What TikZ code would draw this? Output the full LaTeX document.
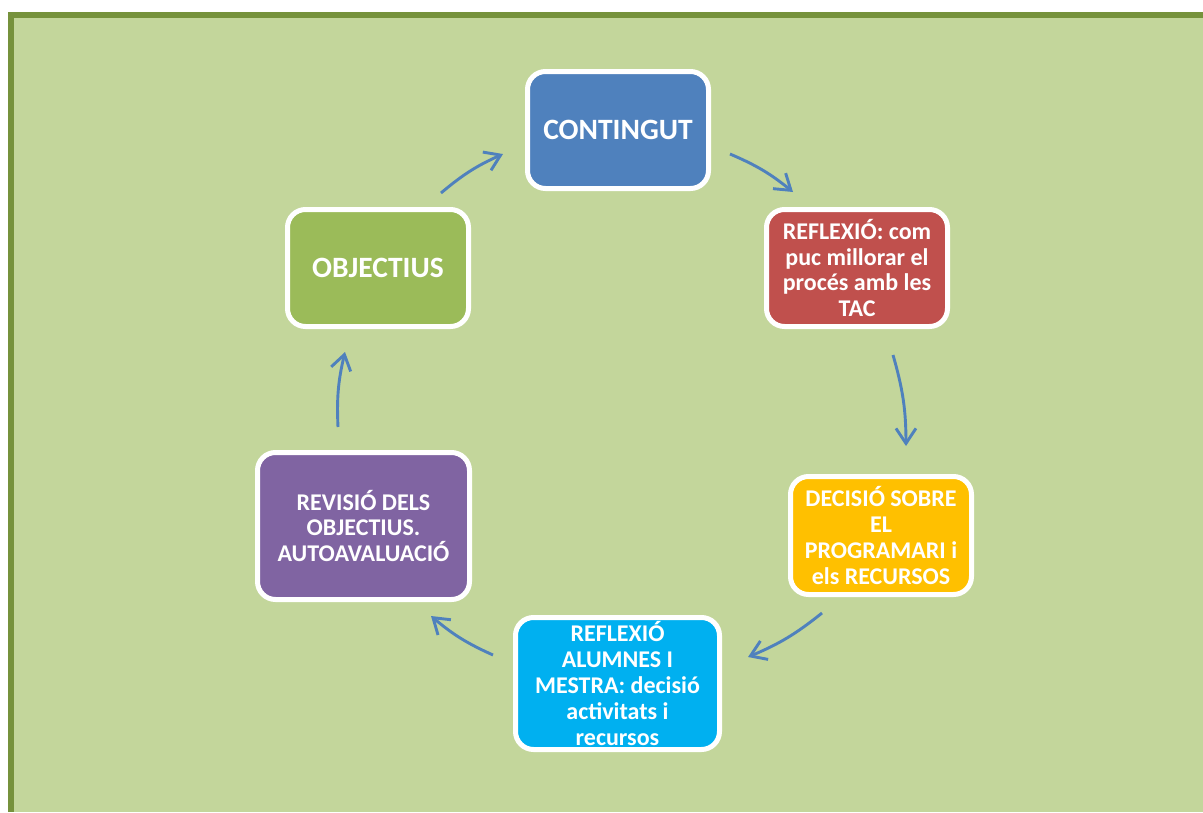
\documentclass[tikz,border=0pt]{standalone}
\usepackage{fontspec}
\setmainfont{Carlito}
\usetikzlibrary{arrows.meta}
\definecolor{frameg}{HTML}{76923C}
\definecolor{bgg}{HTML}{C3D69B}
\definecolor{cblue}{HTML}{4F81BD}
\definecolor{cred}{HTML}{C0504D}
\definecolor{corange}{HTML}{FFC000}
\definecolor{ccyan}{HTML}{00B0F0}
\definecolor{cpurple}{HTML}{8064A2}
\definecolor{cgreen}{HTML}{9BBB59}
\definecolor{arrowblue}{HTML}{4F81BD}
\begin{document}
\begin{tikzpicture}[x=1pt,y=-1pt,
  box/.style={draw=white, line width=5pt, rounded corners=18pt, inner sep=0pt,
    align=center, text=white, font=\bfseries\fontsize{24}{25.8}\selectfont},
  bigtext/.style={font=\bfseries\fontsize{29.5}{32}\selectfont},
  cyc/.style={draw=arrowblue, line width=2.9pt,
    -{Straight Barb[length=15pt,width=20pt]}, bend left=8}
]
\fill[white] (0,0) rectangle (1203,812);
\fill[frameg] (8,12) rectangle (1203,812);
\fill[bgg] (14,18) rectangle (1203,812);
\useasboundingbox (0,0) rectangle (1203,812);

\node[box, bigtext, fill=cblue, minimum width=181pt, minimum height=117pt] (cont) at (618,130) {CONTINGUT};
\node[box, fill=cred, minimum width=181pt, minimum height=117pt] (refl) at (857,268) {REFLEXIÓ: com\\puc millorar el\\procés amb les\\TAC};
\node[box, fill=corange, minimum width=181pt, minimum height=118pt] (dec) at (881,535.5) {DECISIÓ SOBRE\\EL\\PROGRAMARI i\\els RECURSOS};
\node[box, fill=ccyan, minimum width=204pt, minimum height=132pt] (alum) at (617.5,683.5) {REFLEXIÓ\\ALUMNES I\\MESTRA: decisió\\activitats i\\recursos};
\node[box, fill=cpurple, minimum width=212pt, minimum height=147pt] (rev) at (363.5,526) {REVISIÓ DELS\\OBJECTIUS.\\AUTOAVALUACIÓ};
\node[box, bigtext, fill=cgreen, minimum width=181pt, minimum height=117pt] (obj) at (378,268) {OBJECTIUS};

\coordinate (a1s) at (441,193); \coordinate (a1e) at (503,154);
\coordinate (a2s) at (730,154); \coordinate (a2e) at (793,192);
\coordinate (a3s) at (893,355); \coordinate (a3e) at (906,446);
\coordinate (a4s) at (822,613); \coordinate (a4e) at (748,657);
\coordinate (a5s) at (493,655); \coordinate (a5e) at (431,616);
\coordinate (a6s) at (338,427); \coordinate (a6e) at (345,352);

\draw[cyc] (a1s) to (a1e);
\draw[cyc] (a2s) to (a2e);
\draw[cyc] (a3s) to (a3e);
\draw[cyc] (a4s) to (a4e);
\draw[cyc] (a5s) to (a5e);
\draw[cyc] (a6s) to (a6e);
\end{tikzpicture}
\end{document}
